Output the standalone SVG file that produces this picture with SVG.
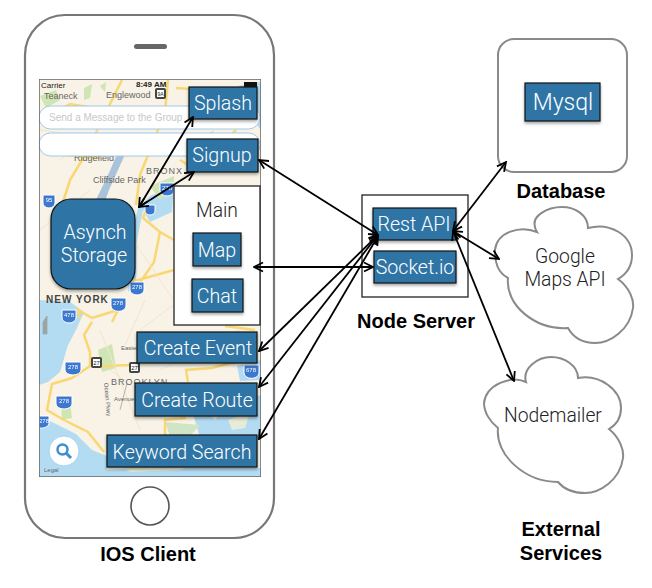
<svg xmlns="http://www.w3.org/2000/svg" width="652" height="588" viewBox="0 0 652 588">
<defs>
<marker id="ah" viewBox="0 0 11 12" refX="10" refY="6" markerWidth="11" markerHeight="12" markerUnits="userSpaceOnUse" orient="auto-start-reverse"><path d="M1 1.500 L10 6 L1 10.500" fill="none" stroke="#000" stroke-width="1.800"/></marker>
<filter id="sh" x="-10%" y="-10%" width="125%" height="130%"><feDropShadow dx="0" dy="2" stdDeviation="1.500" flood-color="#000" flood-opacity=".35"/></filter>
<filter id="bl" x="0" y="0" width="100%" height="100%"><feGaussianBlur stdDeviation=".45"/></filter>
<clipPath id="mc"><rect x="39" y="79" width="222" height="398"/></clipPath>
</defs>
<style>
text{font-family:"Liberation Sans",Arial,sans-serif}
.box{fill:#2e75a6;stroke:#111;stroke-width:1.200;filter:url(#sh)}
.bt{fill:#fff;font-family:Roboto,"Liberation Sans",sans-serif;font-weight:300;font-size:19.600px;text-anchor:middle}
.dk{fill:#222;font-family:Roboto,"Liberation Sans",sans-serif;font-weight:300;font-size:19.300px;text-anchor:middle}
.cap{fill:#000;font-size:20px;font-weight:bold;text-anchor:middle}
.con{fill:none;stroke:#000;stroke-width:1.800;marker-start:url(#ah);marker-end:url(#ah)}
.cl{fill:#fff;stroke:#8a8a8a;stroke-width:2}
.rd{fill:none;stroke:#f9d772;stroke-width:2.500}
.rt{fill:none;stroke:#f1e6cf;stroke-width:1}
.ml{fill:#666;font-size:9px}
.hw{fill:#3d78d0;stroke:#fff;stroke-width:1}
.ht{fill:#fff;font-size:6px;text-anchor:middle}
.pg{fill:#cfe6b4}
.wt{fill:#b3dcf2}
</style>
<g id="ios-client">
<rect x="25" y="15" width="249" height="523" rx="40" fill="#fff" stroke="#777" stroke-width="2.200"/>
<rect x="134" y="44" width="33" height="5" rx="2.500" fill="#666"/>
<circle cx="150" cy="506" r="19" fill="#fff" stroke="#555" stroke-width="1.600"/>
<g id="map" clip-path="url(#mc)">
<g filter="url(#bl)">
<rect x="39" y="79" width="222" height="398" fill="#f8f3e6"/>
<path class="wt" d="M39 300L70 302L84 312L76 330L68 345L60 372L48 382L39 385Z"/>
<path d="M119 150L127 150L109 190L101 212L93 206L108 175Z" fill="#a9c4da"/>
<path class="wt" d="M174 186L172 212L150 222L143 210L137 240L136 285L128 292L132 235L138 208L150 196Z"/>
<path class="wt" d="M238 86L261 82V130L250 116Z"/>
<path class="wt" d="M188 396L216 398L236 402L261 395V438H200Z"/>
<path class="wt" d="M237 366L261 360V380L240 381Z"/>
<path class="wt" d="M39 418L52 422L76 434L92 450L107 456V470L150 468H261V477H39Z"/>
<path d="M205 410L225 408L215 420ZM228 420L250 412L245 428L232 430ZM120 466H190L180 470L130 472Z" fill="#e6ecd6"/>
<path d="M165 422L200 425L190 436H170Z" fill="#cfe5c5"/>
<path class="pg" d="M98 350L112 344L116 368L102 372Z"/><path class="pg" d="M61 406L70 402L72 418L62 420Z"/>
<path class="pg" d="M84 88L92 84L90 98L84 100ZM100 86L106 82L105 92ZM40 96L56 90L60 100L46 108ZM200 138L214 130L206 156L196 165Z"/><path class="pg" d="M150 186L174 176V186L160 200Z"/>
<path class="rd" d="M168 80L165 112L150 150L140 175L136 205"/>
<path class="rd" d="M122 80L102 120L88 150L70 180L62 205"/>
<path class="rd" d="M39 122L70 104L106 110M39 146L64 155L100 158"/>
<path class="rd" d="M176 88L205 90L215 128M180 160L196 170L236 130"/>
<path class="rd" d="M146 210L143 218L160 232L174 240M160 232L154 262L135 290M174 270L120 285"/>
<path class="rd" d="M92 322L84 335L90 352L90 366L72 378L52 384L47 410L64 420L88 432L104 452"/>
<path class="rd" d="M118 310L92 318L78 310L80 318M118 310L112 322"/>
<path class="rd" d="M100 366L135 365M188 382L186 370L212 368L242 360M165 438V420L186 418"/>
<path class="rd" d="M225 326L255 330" stroke-width="1.500"/>
<path class="rt" d="M40 130L110 140M130 235L190 325M145 300L125 345M100 330L140 430M110 370L180 420M190 170L175 185M60 160L110 120M40 230L90 190M140 330L180 300M160 370L240 330"/>
<path d="M43 322l4-6v18h-4zM127 383L120 410" stroke="#9aa6a6" fill="#9aa6a6" stroke-width=".8"/>
<g class="hw"><path d="M43 195h12v8a6 5 0 0 1-12 0Z"/><path d="M160 183h14v8a7 5 0 0 1-14 0Z"/><path d="M145 205h10v6a5 4 0 0 1-10 0Z"/><path d="M130 282h14v8a7 5 0 0 1-14 0Z"/><path d="M62 310h14v8a7 5 0 0 1-14 0Z"/><path d="M111 298h15v8a7 5 0 0 1-15 0Z"/><path d="M65 362h16v8a8 5 0 0 1-16 0Z"/><path d="M56 396h16v8a8 5 0 0 1-16 0Z"/><path d="M39 416h10v8a8 5 0 0 1-10 4Z"/><path d="M244 365h15v8a7 5 0 0 1-15 0Z"/></g>
<text class="ht" x="69" y="317">478</text><text class="ht" x="118" y="305">278</text><text class="ht" x="73" y="369">278</text><text class="ht" x="64" y="403">278</text><text class="ht" x="44" y="423">278</text><text class="ht" x="251" y="372">678</text><text class="ht" x="137" y="289">278</text><text class="ht" x="167" y="190">278</text><text class="ht" x="49" y="202">95</text>
<rect x="91" y="357" width="11" height="11" rx="2" fill="#444"/><rect x="129" y="362" width="11" height="11" rx="2" fill="#444"/><rect x="155" y="88" width="11" height="11" rx="2" fill="#444"/>
<rect x="93" y="359" width="7" height="7" fill="#fff"/><rect x="131" y="364" width="7" height="7" fill="#fff"/><rect x="157" y="90" width="7" height="7" fill="#fff"/>
</g>
<text x="96.500" y="365" style="font-size:6px;text-anchor:middle;fill:#222">27</text><text x="134.500" y="370" style="font-size:6px;text-anchor:middle;fill:#222">27</text><text x="160.500" y="96" style="font-size:5px;text-anchor:middle;fill:#222">9A</text>
<text class="ml" x="44" y="99">Teaneck</text><text class="ml" x="106" y="98">Englewood</text><text class="ml" x="74" y="161">Ridgefield</text><text class="ml" x="93" y="183">Cliffside Park</text><text class="ml" x="146" y="174" style="letter-spacing:1px">BRONX</text>
<text x="46" y="303" style="font-size:10px;font-weight:bold;letter-spacing:1px;fill:#444">NEW YORK</text>
<text class="ml" x="111" y="385" style="letter-spacing:1px">BROOKLYN</text><text class="ml" x="121" y="350" style="font-size:6px">Eastern</text><text class="ml" x="114" y="401" style="font-size:6px">Avenue</text><text x="0" y="0" class="ml" transform="translate(104 383) rotate(85)" style="font-size:6px">Ocean Pkwy</text>
<text class="ml" x="44" y="472" style="font-size:6px">Legal</text>
<text x="41" y="88" style="font-size:8px;fill:#222">Carrier</text><text x="136" y="87" style="font-size:8px;font-weight:bold;fill:#222">8:49 AM</text>
<rect x="244" y="82" width="13" height="5" fill="#111"/>
<rect x="39" y="106" width="221" height="23" rx="11.500" fill="#fff" stroke="#9fc8e8"/>
<text x="49" y="120.500" style="font-size:10px;fill:#c8c8c8">Send a Message to the Group</text>
<rect x="39" y="133" width="221" height="23" rx="11.500" fill="#fff" stroke="#9fc8e8"/>
<circle cx="64" cy="451" r="15" fill="#fff" stroke="#a6d3ee"/><circle cx="62.500" cy="449.500" r="5" fill="none" stroke="#3d8fd0" stroke-width="2.500"/><path d="M66 453L71 458" stroke="#3d8fd0" stroke-width="3"/>
<rect x="39" y="79" width="222" height="398" fill="none" stroke="#666" stroke-width="1.500"/>
</g>
</g>
<g id="splash"><rect class="box" x="189" y="87" width="68" height="32"/><text class="bt" x="223" y="110">Splash</text></g>
<g id="signup"><rect class="box" x="187" y="139" width="71" height="33"/><text class="bt" x="222" y="162">Signup</text></g>
<g id="asynch-storage"><rect class="box" x="51" y="199" width="84" height="90" rx="20"/><text class="bt" x="95" y="239">Asynch</text><text class="bt" x="94" y="262">Storage</text></g>
<g id="main"><rect x="174" y="186" width="86" height="139" fill="#fff" stroke="#222" stroke-width="1.300"/><text class="dk" x="217" y="217">Main</text></g>
<g id="map-view"><rect class="box" x="193" y="233" width="48" height="33"/><text class="bt" x="217" y="257">Map</text></g>
<g id="chat"><rect class="box" x="192" y="279" width="51" height="33"/><text class="bt" x="217" y="303">Chat</text></g>
<g id="create-event"><rect class="box" x="137" y="332" width="120" height="31"/><text class="bt" x="198" y="355">Create Event</text></g>
<g id="create-route"><rect class="box" x="135" y="383" width="122" height="33"/><text class="bt" x="197" y="407">Create Route</text></g>
<g id="keyword-search"><rect class="box" x="107" y="435" width="150" height="32"/><text class="bt" x="182" y="459">Keyword Search</text></g>
<g id="node-server"><rect x="362" y="195" width="106" height="102" fill="#fff" stroke="#222" stroke-width="1.300"/>
<g id="rest-api"><rect class="box" x="373" y="208" width="83" height="32"/><text class="bt" x="414" y="231">Rest API</text></g>
<g id="socket-io"><rect class="box" x="374" y="251" width="82" height="32"/><text class="bt" x="415" y="274">Socket.io</text></g></g>
<g id="database"><rect x="498" y="39" width="129" height="133" rx="16" fill="#fff" stroke="#8a8a8a" stroke-width="2"/>
<g id="mysql"><rect class="box" x="525" y="83" width="75" height="38"/><text class="bt" x="563" y="110" style="font-size:23px">Mysql</text></g></g>
<g id="google-maps-api"><path class="cl" d="M537 232C527 215 550 207 562 207C575 207 588 215 588 228C610 222 632 235 632 255C632 268 625 275 618 279C630 288 634 300 633 308C630 330 610 343 595 343C582 343 573 337 568 328C535 330 505 305 508 278C497 272 495 262 495 250C497 232 520 225 537 232Z"/><text class="dk" x="565" y="263">Google</text><text class="dk" x="565" y="286">Maps API</text></g>
<g id="nodemailer"><path class="cl" d="M526 382C522 368 538 357 551 357C565 357 578 366 578 378C600 374 621 390 621 408C621 418 616 425 609 429C620 438 624 450 623 458C620 480 600 493 585 493C572 493 563 488 558 482C525 482 495 455 498 428C490 422 484 412 484 403C486 385 510 375 526 382Z"/><text class="dk" x="553" y="422">Nodemailer</text></g>
<g id="connectors">
<path class="con" d="M193 117L139 207"/>
<path class="con" d="M194 172L139 207"/>
<path class="con" d="M259 160L378 235"/>
<path class="con" d="M254 267H373"/>
<path class="con" d="M259 351L378 235"/>
<path class="con" d="M259 387L378 235"/>
<path class="con" d="M259 439L378 236"/>
<path class="con" d="M453 231L506 162"/>
<path class="con" d="M453 231L499 259"/>
<path class="con" d="M453 231L514 381"/>
</g>
<g id="labels">
<text class="cap" x="148" y="561">IOS Client</text>
<text class="cap" x="416" y="328">Node Server</text>
<text class="cap" x="561" y="198">Database</text>
<text class="cap" x="561" y="536">External</text>
<text class="cap" x="561" y="560">Services</text>
</g>
</svg>
